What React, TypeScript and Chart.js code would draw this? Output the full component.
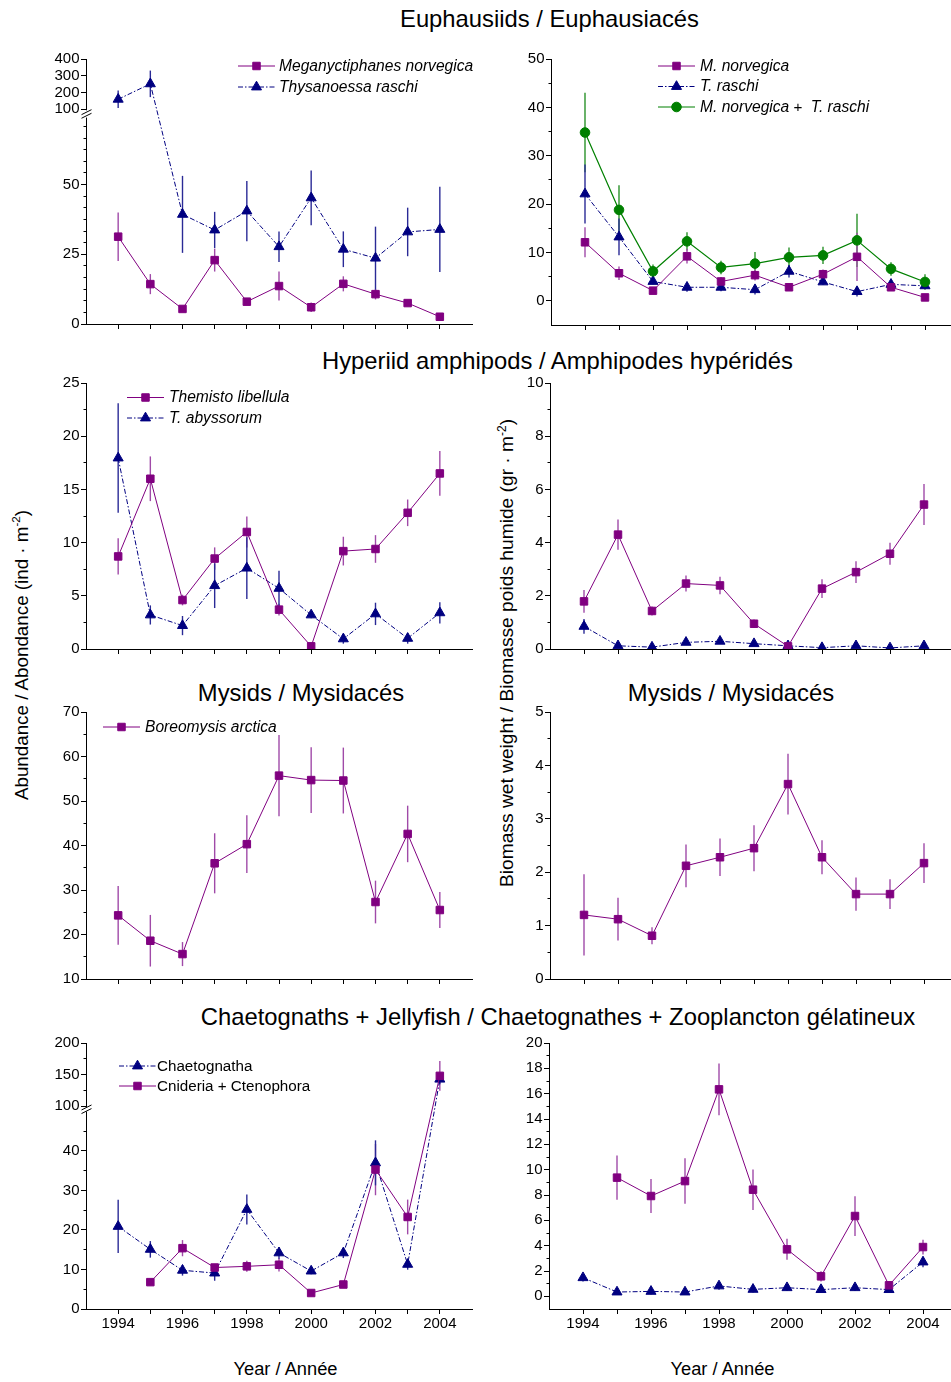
import React, { useEffect, useRef } from 'react';
import { Chart, registerables, LinearScale } from 'chart.js';
import { drawPoint } from 'chart.js/helpers';

Chart.register(...registerables);

const FONT = '"Liberation Sans", Arial, Helvetica, sans-serif';

class BrokenLinearScale extends LinearScale {
  static id = 'brokenLinear';
  static defaults = {};
  brkCfg(): any {
    return (this.options as any).brk;
  }
  getPixelForValue(value: any) {
    if (value === null || value === undefined || Number.isNaN(value)) return NaN;
    const b = this.brkCfg();
    let d: number;
    if (value <= b.lowMax) d = ((value - b.lowMin) / (b.lowMax - b.lowMin)) * b.lowFrac;
    else if (value >= b.highMin) d = b.highFrac + ((value - b.highMin) / (b.highMax - b.highMin)) * (1 - b.highFrac);
    else d = b.lowFrac + ((value - b.lowMax) / (b.highMin - b.lowMax)) * (b.highFrac - b.lowFrac);
    return this.getPixelForDecimal(d);
  }
  getValueForPixel(pixel: number) {
    const b = this.brkCfg();
    const d = this.getDecimalForPixel(pixel);
    if (d <= b.lowFrac) return b.lowMin + (d / b.lowFrac) * (b.lowMax - b.lowMin);
    if (d >= b.highFrac) return b.highMin + ((d - b.highFrac) / (1 - b.highFrac)) * (b.highMax - b.highMin);
    return b.lowMax + ((d - b.lowFrac) / (b.highFrac - b.lowFrac)) * (b.highMin - b.lowMax);
  }
}
Chart.register(BrokenLinearScale);

// ---------------- DATA ----------------
const YEARS = [1994, 1995, 1996, 1997, 1998, 1999, 2000, 2001, 2002, 2003, 2004];

// Euphausiids abundance (ind m-2)
const EUPH_AB_MN = [31.3, 14.3, 5.4, 22.9, 8.0, 13.6, 6.0, 14.4, 10.7, 7.5, 2.6];
const EUPH_AB_MN_ERR = [8.7, 3.6, 0.8, 4.1, 1.2, 5.2, 1.7, 2.7, 1.9, 0.9, 0.9];
const EUPH_AB_TR = [160, 252, 39.3, 33.7, 40.5, 27.7, 45.2, 26.8, 23.6, 33.0, 33.9];
const EUPH_AB_TR_ERR = [52, 79, 13.8, 6.5, 10.8, 5.5, 9.8, 6.4, 11.3, 8.7, 15.3];
const EUPH_AB_TICKS = [0, 25, 50, 100, 200, 300, 400];

// Euphausiids biomass (g m-2)
const EUPH_BM_MN = [12.1, 5.7, 2.1, 9.2, 4.0, 5.3, 2.8, 5.5, 9.1, 2.8, 0.7];
const EUPH_BM_MN_ERR = [3.1, 1.4, 0.5, 1.5, 0.9, 1.1, 0.6, 1.0, 5.0, 0.6, 0.5];
const EUPH_BM_TR = [22.1, 13.2, 4.0, 2.8, 2.8, 2.3, 6.1, 3.9, 1.9, 3.4, 3.1];
const EUPH_BM_TR_ERR = [6.1, 3.8, 0.6, 0.9, 0.8, 1.0, 1.3, 0.6, 1.0, 0.6, 0.5];
const EUPH_BM_SUM = [34.8, 18.8, 6.1, 12.3, 6.9, 7.7, 9.0, 9.4, 12.5, 6.6, 3.9];
const EUPH_BM_SUM_ERR = [8.2, 5.1, 1.4, 1.9, 1.4, 2.4, 2.0, 1.8, 5.5, 1.4, 1.6];
const EUPH_BM_TICKS = [0, 10, 20, 30, 40, 50];

// Hyperiid amphipods abundance
const HYP_AB_TL = [8.7, 16.0, 4.6, 8.5, 11.0, 3.7, 0.25, 9.2, 9.4, 12.8, 16.5];
const HYP_AB_TL_ERR = [1.7, 2.1, 0.5, 1.05, 1.45, 0.55, 0.2, 1.35, 1.3, 1.25, 2.1];
const HYP_AB_TA = [17.95, 3.2, 2.2, 5.95, 7.6, 5.7, 3.2, 0.95, 3.3, 1.0, 3.4];
const HYP_AB_TA_ERR = [5.15, 0.9, 0.9, 2.1, 2.9, 1.65, 0.3, 0.45, 1.05, 0.5, 1.0];
const HYP_AB_TICKS = [0, 5, 10, 15, 20, 25];

// Hyperiid amphipods biomass
const HYP_BM_TL = [1.79, 4.3, 1.43, 2.46, 2.39, 0.95, 0.1, 2.27, 2.89, 3.58, 5.43];
const HYP_BM_TL_ERR = [0.43, 0.57, 0.17, 0.3, 0.33, 0.16, 0.05, 0.35, 0.41, 0.41, 0.77];
const HYP_BM_TA = [0.85, 0.12, 0.07, 0.25, 0.29, 0.2, 0.12, 0.05, 0.12, 0.04, 0.12];
const HYP_BM_TA_ERR = [0.28, 0.03, 0.03, 0.05, 0.06, 0.04, 0.03, 0.02, 0.03, 0.02, 0.03];
const HYP_BM_TICKS = [0, 2, 4, 6, 8, 10];

// Mysids
const MYS_AB = [24.3, 18.6, 15.6, 36.0, 40.3, 55.7, 54.7, 54.6, 27.3, 42.6, 25.5];
const MYS_AB_ERR = [6.6, 5.8, 2.7, 6.75, 6.5, 9.15, 7.4, 7.4, 4.8, 6.35, 4.05];
const MYS_AB_TICKS = [10, 20, 30, 40, 50, 60, 70];
const MYS_BM = [1.2, 1.12, 0.81, 2.12, 2.28, 2.45, 3.65, 2.28, 1.59, 1.59, 2.17];
const MYS_BM_ERR = [0.76, 0.4, 0.16, 0.4, 0.35, 0.43, 0.57, 0.32, 0.31, 0.28, 0.37];
const MYS_BM_TICKS = [0, 1, 2, 3, 4, 5];

// Chaetognaths + jellyfish
const GEL_AB_CH = [20.9, 15.1, 9.8, 9.1, 25.2, 14.2, 9.6, 14.2, 37.0, 11.3, 142.6];
const GEL_AB_CH_ERR = [6.75, 2.1, 1.35, 1.95, 3.8, 1.5, 0.8, 1.3, 5.7, 1.35, 8];
const GEL_AB_CN = [null, 6.8, 15.4, 10.5, 10.8, 11.2, 4.05, 6.2, 35.3, 23.3, 147.9];
const GEL_AB_CN_ERR = [null, 0.8, 2.05, 0.8, 1.4, 1.7, 0.6, 0.6, 6.5, 4.4, 23.7];
const GEL_AB_TICKS = [0, 10, 20, 30, 40, 100, 150, 200];
const GEL_BM_CN = [null, 9.37, 7.92, 9.1, 16.34, 8.42, 3.71, 1.58, 6.34, 0.87, 3.89];
const GEL_BM_CN_ERR = [null, 1.75, 1.35, 1.8, 2.05, 1.6, 0.83, 0.4, 1.57, 0.3, 0.58];
const GEL_BM_CH = [1.47, 0.34, 0.39, 0.34, 0.82, 0.55, 0.68, 0.53, 0.68, 0.53, 2.71];
const GEL_BM_CH_ERR = [0.3, 0.2, 0.25, 0.2, 0.3, 0.25, 0.25, 0.2, 0.25, 0.2, 0.42];
const GEL_BM_TICKS = [0, 2, 4, 6, 8, 10, 12, 14, 16, 18, 20];

// ---------------- STYLE / LAYOUT ----------------
const PURPLE = '#800080';
const NAVY = '#000080';
const GREEN = '#008000';

const STYLE: Record<string, any> = {
  sq: {
    borderColor: PURPLE, borderWidth: 1, pointStyle: 'rect', pointRadius: 5.3,
    pointBackgroundColor: PURPLE, pointBorderColor: PURPLE, pointBorderWidth: 1,
    errColor: '#a04aa8', errWidth: 1.4,
  },
  tri: {
    borderColor: NAVY, borderWidth: 1, borderDash: [5, 2, 1.5, 2], pointStyle: 'triangle', pointRadius: 5.8,
    pointBackgroundColor: NAVY, pointBorderColor: NAVY, pointBorderWidth: 1,
    errColor: '#2a2a96', errWidth: 1.4,
  },
  circ: {
    borderColor: GREEN, borderWidth: 1.2, pointStyle: 'circle', pointRadius: 4.8,
    pointBackgroundColor: GREEN, pointBorderColor: GREEN, pointBorderWidth: 1,
    errColor: '#2a922a', errWidth: 1.4,
  },
};

const YW = 50;
const PT = 14;
const PR = 14;
const XH = 34;

const range = (a: number, b: number, s: number) => {
  const out: number[] = [];
  for (let v = a; v <= b + 1e-9; v += s) out.push(+v.toFixed(4));
  return out;
};

const panels: any[] = [
  {
    area: [86, 59, 472, 324],
    y: { type: 'brokenLinear', min: 0, max: 400, brk: { lowMin: 0, lowMax: 74, highMin: 100, highMax: 400, lowFrac: 0.779, highFrac: 0.81 } },
    majors: EUPH_AB_TICKS,
    minors: range(0, 74, 25 / 6),
    showX: false,
    series: [
      { label: 'Meganyctiphanes norvegica', values: EUPH_AB_MN, errs: EUPH_AB_MN_ERR, kind: 'sq' },
      { label: 'Thysanoessa raschi', values: EUPH_AB_TR, errs: EUPH_AB_TR_ERR, kind: 'tri' },
    ],
    legend: { x: 238, y: 66, dy: 21, len: 37, tx: 279, items: [
      { ds: 0, parts: [['Meganyctiphanes norvegica', true]] },
      { ds: 1, parts: [['Thysanoessa raschi', true]] },
    ] },
  },
  {
    area: [551, 59, 959, 325],
    y: { type: 'linear', min: -5, max: 50 },
    majors: EUPH_BM_TICKS,
    minors: range(5, 45, 10),
    showX: false,
    series: [
      { label: 'M. norvegica + T. raschi', values: EUPH_BM_SUM, errs: EUPH_BM_SUM_ERR, kind: 'circ' },
      { label: 'M. norvegica', values: EUPH_BM_MN, errs: EUPH_BM_MN_ERR, kind: 'sq' },
      { label: 'T. raschi', values: EUPH_BM_TR, errs: EUPH_BM_TR_ERR, kind: 'tri' },
    ],
    legend: { x: 658, y: 66, dy: 20.5, len: 37, tx: 700, items: [
      { ds: 1, parts: [['M. norvegica', true]] },
      { ds: 2, parts: [['T. raschi', true]] },
      { ds: 0, parts: [['M. norvegica', true], [' +  ', false], ['T. raschi', true]] },
    ] },
  },
  {
    area: [86, 383, 472, 649],
    y: { type: 'linear', min: 0, max: 25 },
    majors: HYP_AB_TICKS,
    minors: range(2.5, 22.5, 5),
    showX: false,
    series: [
      { label: 'Themisto libellula', values: HYP_AB_TL, errs: HYP_AB_TL_ERR, kind: 'sq' },
      { label: 'T. abyssorum', values: HYP_AB_TA, errs: HYP_AB_TA_ERR, kind: 'tri' },
    ],
    legend: { x: 127, y: 397.5, dy: 20.5, len: 37, tx: 169, items: [
      { ds: 0, parts: [['Themisto libellula', true]] },
      { ds: 1, parts: [['T. abyssorum', true]] },
    ] },
  },
  {
    area: [550, 383, 958, 649],
    y: { type: 'linear', min: 0, max: 10 },
    majors: HYP_BM_TICKS,
    minors: range(1, 9, 2),
    showX: false,
    series: [
      { label: 'Themisto libellula', values: HYP_BM_TL, errs: HYP_BM_TL_ERR, kind: 'sq' },
      { label: 'T. abyssorum', values: HYP_BM_TA, errs: HYP_BM_TA_ERR, kind: 'tri' },
    ],
    legend: null,
  },
  {
    area: [86, 712, 472, 979],
    y: { type: 'linear', min: 10, max: 70 },
    majors: MYS_AB_TICKS,
    minors: range(15, 65, 10),
    showX: false,
    series: [
      { label: 'Boreomysis arctica', values: MYS_AB, errs: MYS_AB_ERR, kind: 'sq' },
    ],
    legend: { x: 103, y: 727, dy: 20, len: 37, tx: 145, items: [
      { ds: 0, parts: [['Boreomysis arctica', true]] },
    ] },
  },
  {
    area: [550, 712, 958, 979],
    y: { type: 'linear', min: 0, max: 5 },
    majors: MYS_BM_TICKS,
    minors: range(0.5, 4.5, 1),
    showX: false,
    series: [
      { label: 'Boreomysis arctica', values: MYS_BM, errs: MYS_BM_ERR, kind: 'sq' },
    ],
    legend: null,
  },
  {
    area: [86, 1043, 472, 1309],
    y: { type: 'brokenLinear', min: 0, max: 200, brk: { lowMin: 0, lowMax: 50, highMin: 100, highMax: 200, lowFrac: 0.7425, highFrac: 0.763 } },
    majors: GEL_AB_TICKS,
    minors: [...range(5, 45, 10), 125, 175],
    showX: true,
    series: [
      { label: 'Cnideria + Ctenophora', values: GEL_AB_CN, errs: GEL_AB_CN_ERR, kind: 'sq' },
      { label: 'Chaetognatha', values: GEL_AB_CH, errs: GEL_AB_CH_ERR, kind: 'tri' },
    ],
    legend: { x: 119, y: 1066, dy: 20, len: 37, tx: 157, items: [
      { ds: 1, parts: [['Chaetognatha', false]] },
      { ds: 0, parts: [['Cnideria + Ctenophora', false]] },
    ] },
  },
  {
    area: [549, 1043, 957, 1309],
    y: { type: 'linear', min: -1, max: 20 },
    majors: GEL_BM_TICKS,
    minors: range(1, 19, 2),
    showX: true,
    series: [
      { label: 'Cnideria + Ctenophora', values: GEL_BM_CN, errs: GEL_BM_CN_ERR, kind: 'sq' },
      { label: 'Chaetognatha', values: GEL_BM_CH, errs: GEL_BM_CH_ERR, kind: 'tri' },
    ],
    legend: null,
  },
];

function geom(p: any) {
  const [l, t, r, b] = p.area;
  return { left: l - YW, top: t - PT, w: r - l + YW + PR, h: b - t + PT + XH };
}

const align = (v: number) => Math.round(v - 0.5) + 0.5;

function createChart(canvas: HTMLCanvasElement, p: any) {
  const g = geom(p);
  const ox = g.left;
  const oy = g.top;
  const majors: number[] = p.majors;
  const minors: number[] = p.minors.filter((v: number) => !majors.some((m) => Math.abs(m - v) < 1e-6));

  const datasets = p.series.map((s: any) => ({
    label: s.label,
    data: YEARS.map((yr, j) => ({ x: yr, y: s.values[j] })),
    errs: s.errs,
    ...STYLE[s.kind],
    fill: false,
    tension: 0,
    spanGaps: false,
  }));

  const extras = {
    id: 'extras',
    beforeDatasetsDraw(chart: any) {
      const ctx = chart.ctx;
      const ys = chart.scales.y;
      chart.data.datasets.forEach((ds: any, i: number) => {
        if (!ds.errs) return;
        const meta = chart.getDatasetMeta(i);
        ctx.save();
        ctx.strokeStyle = ds.errColor;
        ctx.lineWidth = ds.errWidth;
        ctx.setLineDash([]);
        ds.data.forEach((pt: any, j: number) => {
          const e = ds.errs[j];
          if (pt.y === null || pt.y === undefined || e === null || e === undefined) return;
          const el = meta.data[j];
          if (!el) return;
          const x = el.x;
          ctx.beginPath();
          ctx.moveTo(x, ys.getPixelForValue(pt.y + e));
          ctx.lineTo(x, ys.getPixelForValue(pt.y - e));
          ctx.stroke();
        });
        ctx.restore();
      });
    },
    afterDraw(chart: any) {
      const ctx = chart.ctx;
      const ys = chart.scales.y;
      const ax = align(chart.chartArea.left);
      ctx.save();
      ctx.strokeStyle = '#000';
      ctx.lineWidth = 1;
      ctx.setLineDash([]);
      minors.forEach((v) => {
        const py = align(ys.getPixelForValue(v));
        ctx.beginPath();
        ctx.moveTo(ax - 3, py);
        ctx.lineTo(ax, py);
        ctx.stroke();
      });
      if (p.y.brk) {
        const b = p.y.brk;
        const yHi = ys.getPixelForValue(b.highMin);
        const yLo = ys.getPixelForValue(b.lowMax);
        ctx.fillStyle = '#fff';
        ctx.fillRect(ax - 1.5, yHi + 1, 3, yLo - yHi - 1);
        const yc = (yHi + yLo) / 2 + 0.5;
        ctx.lineWidth = 1;
        [-1.8, 1.8].forEach((off) => {
          ctx.beginPath();
          ctx.moveTo(ax - 5, yc + off + 2.5);
          ctx.lineTo(ax + 5, yc + off - 2.5);
          ctx.stroke();
        });
      }
      const lg = p.legend;
      if (lg) {
        lg.items.forEach((it: any, k: number) => {
          const ds = chart.data.datasets[it.ds];
          const y = lg.y + k * lg.dy - oy;
          const x1 = lg.x - ox;
          const x2 = x1 + lg.len;
          ctx.strokeStyle = ds.borderColor;
          ctx.lineWidth = ds.borderWidth;
          ctx.setLineDash(ds.borderDash || []);
          ctx.beginPath();
          ctx.moveTo(x1, y);
          ctx.lineTo(x2, y);
          ctx.stroke();
          ctx.setLineDash([]);
          ctx.fillStyle = ds.pointBackgroundColor;
          ctx.strokeStyle = ds.pointBorderColor;
          ctx.lineWidth = ds.pointBorderWidth;
          drawPoint(ctx, { pointStyle: ds.pointStyle, radius: ds.pointRadius, rotation: 0, borderWidth: ds.pointBorderWidth } as any, (x1 + x2) / 2, y);
          let tx = lg.tx - ox;
          ctx.fillStyle = '#000';
          ctx.textBaseline = 'middle';
          ctx.textAlign = 'left';
          it.parts.forEach(([txt, ital]: [string, boolean]) => {
            ctx.font = `${ital ? 'italic 15.6px' : '15.2px'} ${FONT}`;
            ctx.fillText(txt, tx, y + 0.5);
            tx += ctx.measureText(txt).width;
          });
        });
      }
      ctx.restore();
    },
  };

  const tickFont = { family: FONT, size: 15 };

  return new Chart(canvas, {
    type: 'line',
    data: { datasets },
    plugins: [extras],
    options: {
      animation: false,
      responsive: false,
      maintainAspectRatio: false,
      events: [],
      layout: { padding: { top: PT, right: PR, left: 0, bottom: 0 } },
      plugins: { legend: { display: false }, tooltip: { enabled: false }, title: { display: false } },
      scales: {
        x: {
          type: 'linear',
          min: 1993,
          max: 2005,
          afterBuildTicks: (s: any) => {
            s.ticks = YEARS.map((v) => ({ value: v }));
          },
          afterFit: (s: any) => {
            s.height = XH;
          },
          ticks: {
            autoSkip: false,
            maxRotation: 0,
            padding: 1,
            color: '#000',
            font: tickFont,
            callback: (v: any) => (p.showX && Number(v) % 2 === 0 ? String(v) : ''),
          },
          grid: { display: true, drawOnChartArea: false, drawTicks: true, tickLength: 5, color: '#000', lineWidth: 1 },
          border: { display: true, color: '#000', width: 1 },
        },
        y: {
          ...p.y,
          afterBuildTicks: (s: any) => {
            s.ticks = majors.map((v) => ({ value: v }));
          },
          afterFit: (s: any) => {
            s.width = YW;
          },
          ticks: {
            autoSkip: false,
            padding: 1.5,
            color: '#000',
            font: tickFont,
            callback: (v: any) => String(v),
          },
          grid: { display: true, drawOnChartArea: false, drawTicks: true, tickLength: 5, color: '#000', lineWidth: 1 },
          border: { display: true, color: '#000', width: 1 },
        },
      },
    } as any,
  });
}

function Label({ x, y, size, children, rotate }: any) {
  if (rotate) {
    return (
      <div
        style={{
          position: 'absolute',
          left: x,
          top: y,
          fontSize: size,
          lineHeight: `${size}px`,
          whiteSpace: 'nowrap',
          transform: 'translate(-50%, -50%) rotate(-90deg)',
        }}
      >
        {children}
      </div>
    );
  }
  return (
    <div
      style={{
        position: 'absolute',
        left: x,
        top: y - 0.4885 * size,
        fontSize: size,
        lineHeight: `${size}px`,
        whiteSpace: 'nowrap',
        transform: 'translateX(-50%)',
      }}
    >
      {children}
    </div>
  );
}

const sup = { fontSize: '0.62em', verticalAlign: 'super', lineHeight: 0 } as any;

export default function App() {
  const refs = useRef<(HTMLCanvasElement | null)[]>([]);
  useEffect(() => {
    const charts = panels.map((p, i) => createChart(refs.current[i] as HTMLCanvasElement, p));
    return () => {
      charts.forEach((c) => c.destroy());
    };
  }, []);
  return (
    <div
      style={{
        position: 'absolute',
        left: 0,
        top: 0,
        width: 951,
        height: 1382,
        overflow: 'hidden',
        background: '#fff',
        color: '#000',
        fontFamily: FONT,
      }}
    >
      <Label x={549.5} y={19} size={23.8}>Euphausiids / Euphausiacés</Label>
      <Label x={557.5} y={361} size={23.8}>Hyperiid amphipods / Amphipodes hypéridés</Label>
      <Label x={301} y={693} size={23.8}>Mysids / Mysidacés</Label>
      <Label x={731} y={693} size={23.8}>Mysids / Mysidacés</Label>
      <Label x={558} y={1017} size={23.8}>Chaetognaths + Jellyfish / Chaetognathes + Zooplancton gélatineux</Label>
      <Label x={285.5} y={1369} size={18.3}>Year / Année</Label>
      <Label x={722.5} y={1369} size={18.3}>Year / Année</Label>
      <Label x={22} y={655} size={18.8} rotate>
        Abundance / Abondance (ind · m<span style={sup}>-2</span>)
      </Label>
      <Label x={507} y={653} size={19.2} rotate>
        Biomass wet weight / Biomasse poids humide (gr · m<span style={sup}>-2</span>)
      </Label>
      {panels.map((p, i) => {
        const g = geom(p);
        return (
          <canvas
            key={i}
            ref={(el) => {
              refs.current[i] = el;
            }}
            width={g.w}
            height={g.h}
            style={{ position: 'absolute', left: g.left, top: g.top, width: g.w, height: g.h }}
          />
        );
      })}
    </div>
  );
}
